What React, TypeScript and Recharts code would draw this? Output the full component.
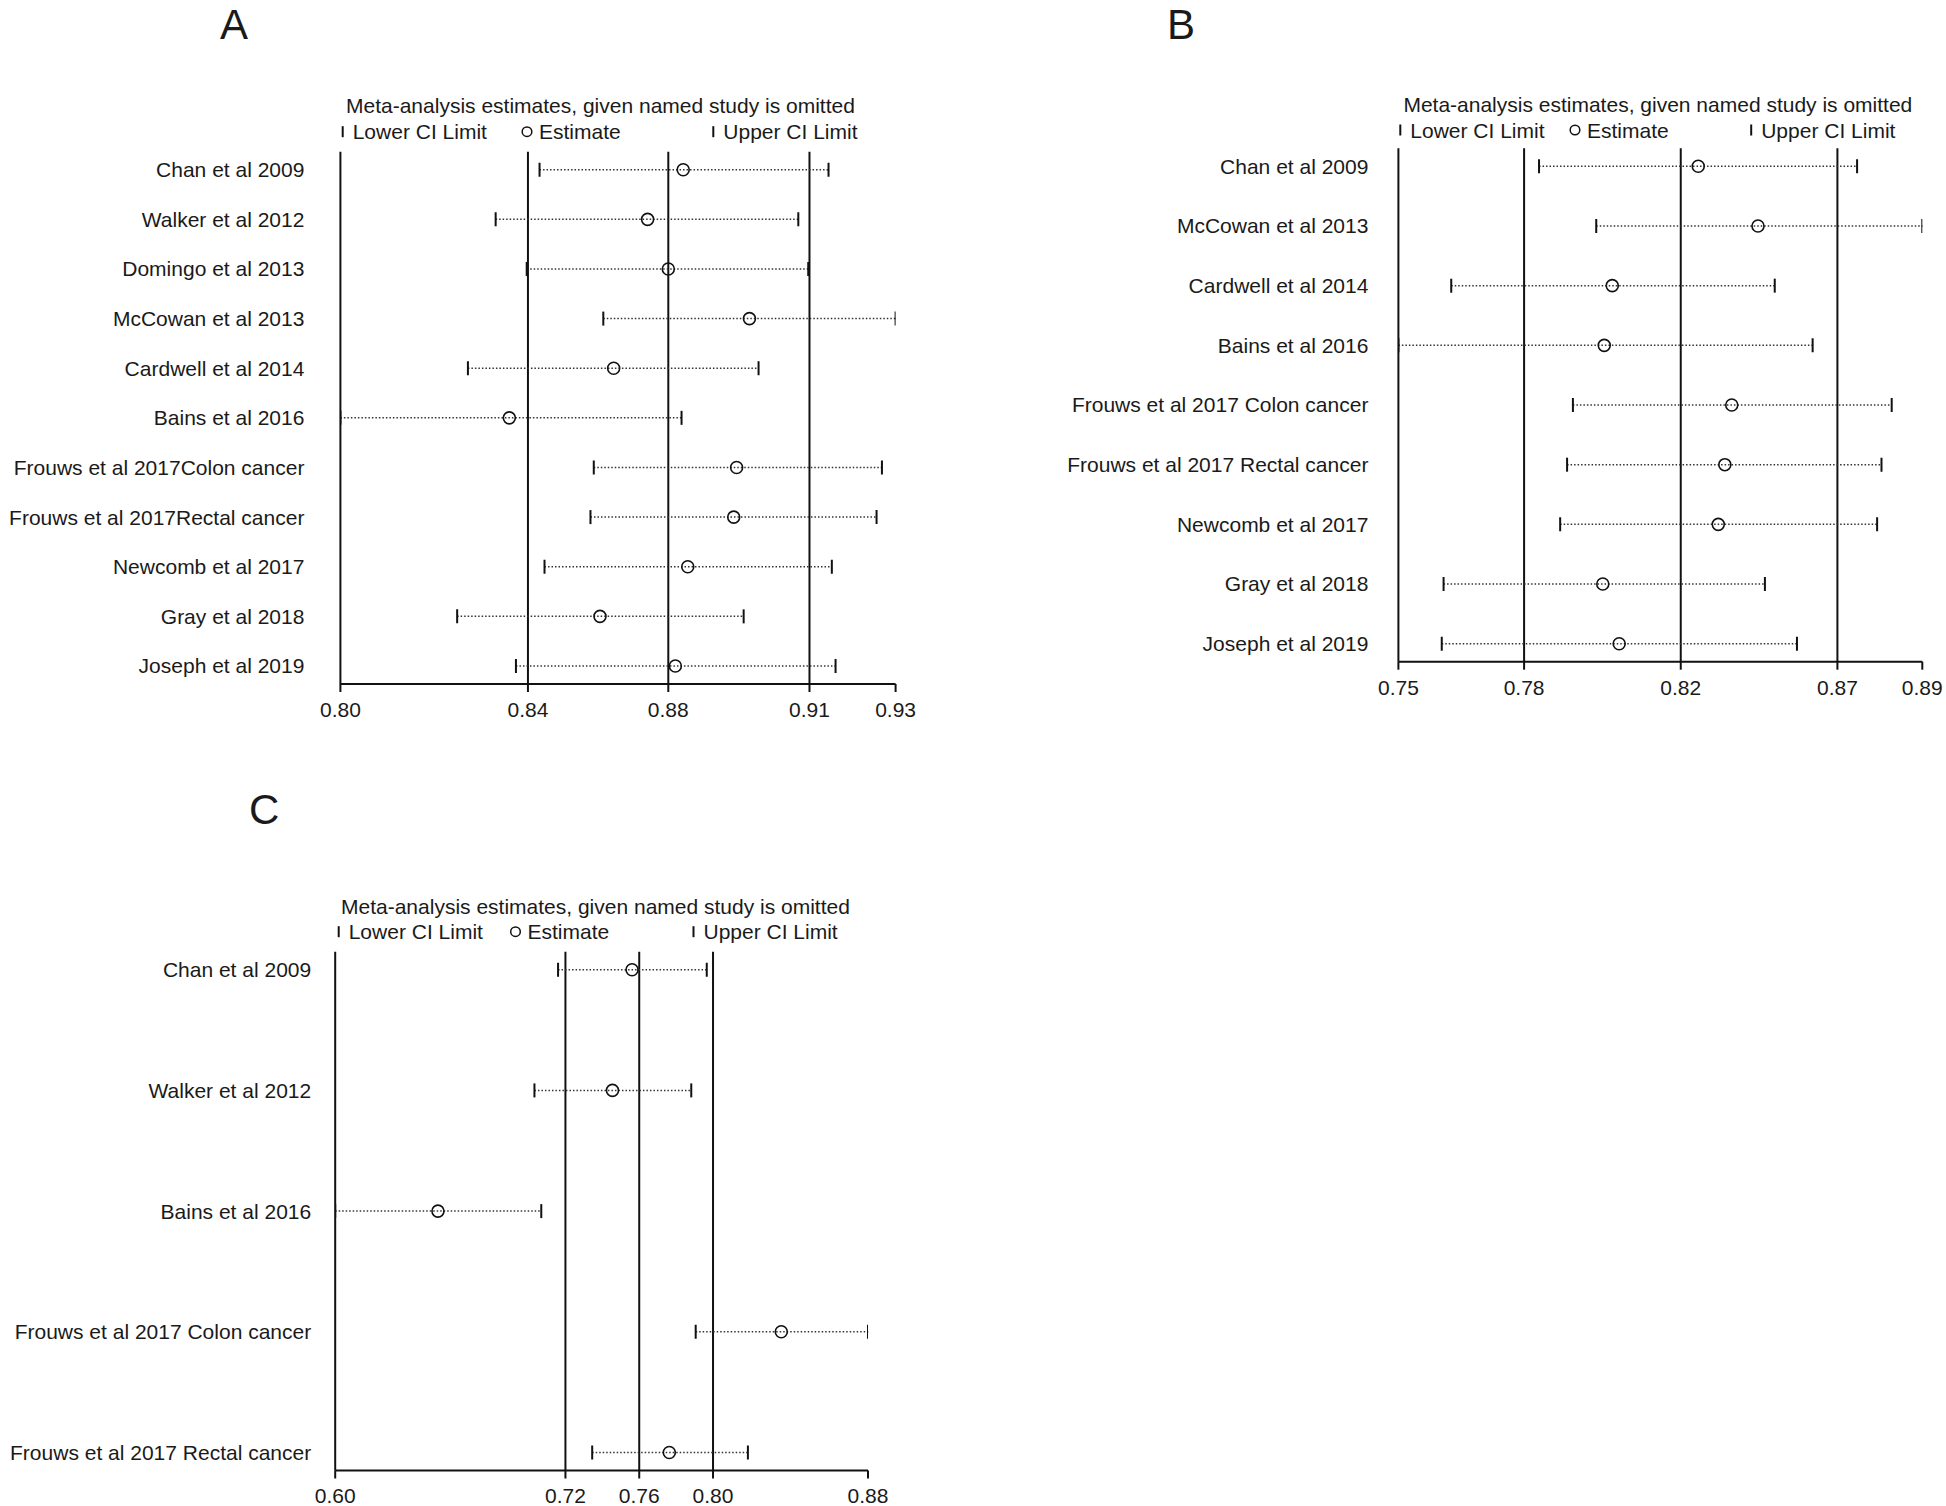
import React from "react";
import { ScatterChart, Scatter, XAxis, YAxis, ReferenceLine, ErrorBar } from "recharts";

const FONT = "'Liberation Sans', Arial, Helvetica, sans-serif";
const INK = "#111";
const DOTS = "#333";

const TITLE = "Meta-analysis estimates, given named study is omitted";
const LEGEND_LABELS = ["Lower CI Limit", "Estimate", "Upper CI Limit"];

// Panel A
const studiesA = [
  "Chan et al 2009",
  "Walker et al 2012",
  "Domingo et al 2013",
  "McCowan et al 2013",
  "Cardwell et al 2014",
  "Bains et al 2016",
  "Frouws et al 2017Colon cancer",
  "Frouws et al 2017Rectal cancer",
  "Newcomb et al 2017",
  "Gray et al 2018",
  "Joseph et al 2019",
];
const lowerA = [0.8451, 0.8345, 0.842, 0.8605, 0.8278, 0.797, 0.8582, 0.8574, 0.8463, 0.8252, 0.8394];
const estimateA = [0.8798, 0.8712, 0.8762, 0.8958, 0.863, 0.8378, 0.8927, 0.892, 0.8809, 0.8597, 0.8779];
const upperA = [0.9149, 0.9076, 0.91, 0.9311, 0.898, 0.8794, 0.9278, 0.9265, 0.9157, 0.8944, 0.9166];
const ticksA = [0.797, 0.8423, 0.8762, 0.9103, 0.9311];
const tickLabelsA = ["0.80", "0.84", "0.88", "0.91", "0.93"];

// Panel B
const studiesB = [
  "Chan et al 2009",
  "McCowan et al 2013",
  "Cardwell et al 2014",
  "Bains et al 2016",
  "Frouws et al 2017 Colon cancer",
  "Frouws et al 2017 Rectal cancer",
  "Newcomb et al 2017",
  "Gray et al 2018",
  "Joseph et al 2019",
];
const lowerB = [0.7851, 0.8008, 0.761, 0.7465, 0.7944, 0.7928, 0.7909, 0.7589, 0.7584];
const estimateB = [0.8288, 0.8452, 0.8052, 0.803, 0.838, 0.8361, 0.8343, 0.8026, 0.8071];
const upperB = [0.8724, 0.8903, 0.8498, 0.8602, 0.8819, 0.8791, 0.8779, 0.8471, 0.8559];
const ticksB = [0.7465, 0.781, 0.824, 0.867, 0.8903];
const tickLabelsB = ["0.75", "0.78", "0.82", "0.87", "0.89"];

// Panel C
const studiesC = [
  "Chan et al 2009",
  "Walker et al 2012",
  "Bains et al 2016",
  "Frouws et al 2017 Colon cancer",
  "Frouws et al 2017 Rectal cancer",
];
const lowerC = [0.716, 0.7032, 0.5952, 0.7906, 0.7345];
const estimateC = [0.7561, 0.7455, 0.6509, 0.837, 0.7763];
const upperC = [0.7966, 0.7882, 0.7069, 0.884, 0.8189];
const ticksC = [0.5952, 0.72, 0.76, 0.8, 0.884];
const tickLabelsC = ["0.60", "0.72", "0.76", "0.80", "0.88"];

const ROW_PAD = 18;
const X_AXIS_H = 40;

const Cap = (p: any) => (
  <line x1={p.cx} x2={p.cx} y1={p.cy - 7} y2={p.cy + 7} stroke={INK} strokeWidth={2} />
);
const Ring = (p: any) => (
  <circle cx={p.cx} cy={p.cy} r={6} fill="none" stroke={INK} strokeWidth={1.6} />
);

type Box = { left: number; top: number; width: number; height: number };
type Plot = { left: number; right: number; top: number; bottom: number };

function Panel(props: {
  studies: string[];
  lower: number[];
  estimate: number[];
  upper: number[];
  ticks: number[];
  tickLabels: string[];
  box: Box;
  plot: Plot;
  labelGap: number;
}) {
  const { studies, lower, estimate, upper, ticks, tickLabels, box, plot, labelGap } = props;
  const n = studies.length;
  const rows = studies.map((_, i) => i + 1);
  const estPts = studies.map((_, i) => ({
    x: estimate[i],
    y: i + 1,
    err: [estimate[i] - lower[i], upper[i] - estimate[i]],
  }));
  const loPts = studies.map((_, i) => ({ x: lower[i], y: i + 1 }));
  const hiPts = studies.map((_, i) => ({ x: upper[i], y: i + 1 }));
  const spacing = (plot.bottom - plot.top - 2 * ROW_PAD) / (n - 1);
  const padU = ROW_PAD / spacing;

  return (
    <div style={{ position: "absolute", left: box.left, top: box.top, width: box.width, height: box.height }}>
      <ScatterChart
        width={box.width}
        height={box.height}
        margin={{
          top: plot.top - box.top,
          right: box.left + box.width - plot.right,
          bottom: box.top + box.height - plot.bottom - X_AXIS_H,
          left: 0,
        }}
      >
        <XAxis
          type="number"
          dataKey="x"
          domain={[ticks[0], ticks[ticks.length - 1]]}
          allowDataOverflow
          ticks={ticks}
          interval={0}
          tickFormatter={(v: number) => tickLabels[ticks.indexOf(v)]}
          height={X_AXIS_H}
          axisLine={{ stroke: INK, strokeWidth: 2 }}
          tickLine={{ stroke: INK, strokeWidth: 2 }}
          tickSize={8}
          tickMargin={10}
          tick={{ fill: "#1a1a1a", fontSize: 21, fontFamily: FONT }}
        />
        <YAxis
          type="number"
          dataKey="y"
          domain={[1 - padU, n + padU]}
          allowDataOverflow
          reversed
          ticks={rows}
          interval={0}
          tickFormatter={(v: number) => studies[v - 1]}
          width={plot.left - box.left}
          axisLine={{ stroke: INK, strokeWidth: 2 }}
          tickLine={false}
          tickSize={0}
          tickMargin={labelGap}
          tick={{ fill: "#1a1a1a", fontSize: 21, fontFamily: FONT }}
        />
        {ticks.slice(1, -1).map((t) => (
          <ReferenceLine key={t} x={t} stroke={INK} strokeWidth={2} />
        ))}
        <Scatter data={loPts} shape={Cap} isAnimationActive={false} />
        <Scatter data={hiPts} shape={Cap} isAnimationActive={false} />
        <Scatter data={estPts} shape={Ring} isAnimationActive={false}>
          <ErrorBar
            dataKey="err"
            direction="x"
            width={0}
            stroke={DOTS}
            strokeWidth={1.5}
            strokeDasharray="1.5 2"
            isAnimationActive={false}
          />
        </Scatter>
      </ScatterChart>
    </div>
  );
}

function Header(props: {
  letter: string;
  letterX: number;
  letterY: number;
  titleX: number;
  titleY: number;
  legendY: number;
  markers: number[];
}) {
  const { letter, letterX, letterY, titleX, titleY, legendY, markers } = props;
  const [lo, est, hi] = markers;
  const base = legendY + 7.5;
  return (
    <g fontFamily={FONT} fill="#1a1a1a">
      <text x={letterX} y={letterY} fontSize={42}>
        {letter}
      </text>
      <text x={titleX} y={titleY + 7.5} fontSize={21}>
        {TITLE}
      </text>
      <line x1={lo} x2={lo} y1={legendY - 5.5} y2={legendY + 5.5} stroke={INK} strokeWidth={2} />
      <text x={lo + 10} y={base} fontSize={21}>
        {LEGEND_LABELS[0]}
      </text>
      <circle cx={est} cy={legendY} r={4.8} fill="none" stroke={INK} strokeWidth={1.5} />
      <text x={est + 12} y={base} fontSize={21}>
        {LEGEND_LABELS[1]}
      </text>
      <line x1={hi} x2={hi} y1={legendY - 5.5} y2={legendY + 5.5} stroke={INK} strokeWidth={2} />
      <text x={hi + 10} y={base} fontSize={21}>
        {LEGEND_LABELS[2]}
      </text>
    </g>
  );
}

export default function App() {
  return (
    <div style={{ position: "absolute", left: 0, top: 0, width: 1946, height: 1506, background: "#fff" }}>
      <Panel
        studies={studiesA}
        lower={lowerA}
        estimate={estimateA}
        upper={upperA}
        ticks={ticksA}
        tickLabels={tickLabelsA}
        box={{ left: 0, top: 0, width: 930, height: 740 }}
        plot={{ left: 340.4, right: 895.6, top: 151.7, bottom: 684 }}
        labelGap={36}
      />
      <Panel
        studies={studiesB}
        lower={lowerB}
        estimate={estimateB}
        upper={upperB}
        ticks={ticksB}
        tickLabels={tickLabelsB}
        box={{ left: 960, top: 0, width: 986, height: 740 }}
        plot={{ left: 1398.4, right: 1922.3, top: 148.3, bottom: 661.7 }}
        labelGap={30}
      />
      <Panel
        studies={studiesC}
        lower={lowerC}
        estimate={estimateC}
        upper={upperC}
        ticks={ticksC}
        tickLabels={tickLabelsC}
        box={{ left: 0, top: 760, width: 930, height: 746 }}
        plot={{ left: 335.2, right: 868, top: 951.7, bottom: 1470.5 }}
        labelGap={24}
      />
      <svg
        width={1946}
        height={1506}
        style={{ position: "absolute", left: 0, top: 0, pointerEvents: "none" }}
      >
        <Header letter="A" letterX={220} letterY={39} titleX={346} titleY={105} legendY={131.7} markers={[342.7, 527, 713.3]} />
        <Header letter="B" letterX={1167} letterY={39} titleX={1403.4} titleY={104.3} legendY={130} markers={[1400.3, 1575, 1751.2]} />
        <Header letter="C" letterX={249} letterY={824} titleX={341} titleY={906} legendY={931.7} markers={[338.7, 515.5, 693.5]} />
      </svg>
    </div>
  );
}
